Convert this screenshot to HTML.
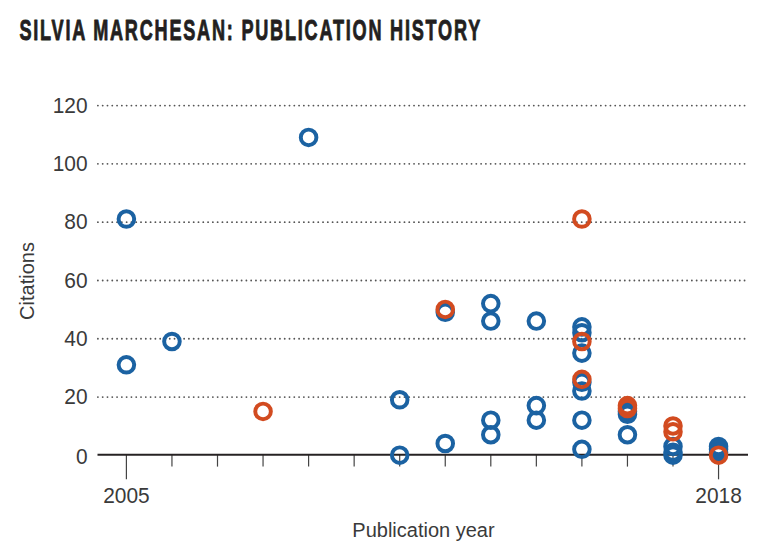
<!DOCTYPE html>
<html><head><meta charset="utf-8"><style>
html,body{margin:0;padding:0;background:#fff;}
body{width:767px;height:556px;overflow:hidden;}
svg{display:block;}
.lab{font-family:"Liberation Sans",sans-serif;font-size:20px;fill:#3a3a3a;}
.num{font-family:"Liberation Sans",sans-serif;font-size:22.5px;fill:#3a3a3a;}
.title{font-family:"Liberation Sans",sans-serif;font-size:30.2px;font-weight:bold;fill:#231f20;}
</style></head><body>
<svg width="767" height="556" viewBox="0 0 767 556">
<line x1="97.9" y1="397.05" x2="746" y2="397.05" stroke="#555" stroke-width="1.85" stroke-linecap="round" stroke-dasharray="0.01 4.78"/>
<line x1="97.9" y1="338.75" x2="746" y2="338.75" stroke="#555" stroke-width="1.85" stroke-linecap="round" stroke-dasharray="0.01 4.78"/>
<line x1="97.9" y1="280.45" x2="746" y2="280.45" stroke="#555" stroke-width="1.85" stroke-linecap="round" stroke-dasharray="0.01 4.78"/>
<line x1="97.9" y1="222.15" x2="746" y2="222.15" stroke="#555" stroke-width="1.85" stroke-linecap="round" stroke-dasharray="0.01 4.78"/>
<line x1="97.9" y1="163.85" x2="746" y2="163.85" stroke="#555" stroke-width="1.85" stroke-linecap="round" stroke-dasharray="0.01 4.78"/>
<line x1="97.9" y1="105.55" x2="746" y2="105.55" stroke="#555" stroke-width="1.85" stroke-linecap="round" stroke-dasharray="0.01 4.78"/>
<line x1="126.40" y1="454.8" x2="126.40" y2="479.3" stroke="#444" stroke-width="1.2"/>
<line x1="171.95" y1="454.8" x2="171.95" y2="466.6" stroke="#444" stroke-width="1.2"/>
<line x1="217.50" y1="454.8" x2="217.50" y2="466.6" stroke="#444" stroke-width="1.2"/>
<line x1="263.05" y1="454.8" x2="263.05" y2="466.6" stroke="#444" stroke-width="1.2"/>
<line x1="308.60" y1="454.8" x2="308.60" y2="466.6" stroke="#444" stroke-width="1.2"/>
<line x1="354.15" y1="454.8" x2="354.15" y2="466.6" stroke="#444" stroke-width="1.2"/>
<line x1="399.70" y1="454.8" x2="399.70" y2="466.6" stroke="#444" stroke-width="1.2"/>
<line x1="445.25" y1="454.8" x2="445.25" y2="466.6" stroke="#444" stroke-width="1.2"/>
<line x1="490.80" y1="454.8" x2="490.80" y2="466.6" stroke="#444" stroke-width="1.2"/>
<line x1="536.35" y1="454.8" x2="536.35" y2="466.6" stroke="#444" stroke-width="1.2"/>
<line x1="581.90" y1="454.8" x2="581.90" y2="466.6" stroke="#444" stroke-width="1.2"/>
<line x1="627.45" y1="454.8" x2="627.45" y2="466.6" stroke="#444" stroke-width="1.2"/>
<line x1="673.00" y1="454.8" x2="673.00" y2="466.6" stroke="#444" stroke-width="1.2"/>
<line x1="718.55" y1="454.8" x2="718.55" y2="479.3" stroke="#444" stroke-width="1.2"/>
<line x1="97.5" y1="454.8" x2="748" y2="454.8" stroke="#262223" stroke-width="2.1"/>
<circle cx="126.40" cy="219.03" r="7.8" fill="none" stroke="#1b62a2" stroke-width="3.95"/>
<circle cx="126.40" cy="364.79" r="7.8" fill="none" stroke="#1b62a2" stroke-width="3.95"/>
<circle cx="171.95" cy="341.47" r="7.8" fill="none" stroke="#1b62a2" stroke-width="3.95"/>
<circle cx="308.60" cy="137.41" r="7.8" fill="none" stroke="#1b62a2" stroke-width="3.95"/>
<circle cx="399.70" cy="399.77" r="7.8" fill="none" stroke="#1b62a2" stroke-width="3.95"/>
<circle cx="399.70" cy="455.15" r="7.8" fill="none" stroke="#1b62a2" stroke-width="3.95"/>
<circle cx="445.25" cy="443.49" r="7.8" fill="none" stroke="#1b62a2" stroke-width="3.95"/>
<circle cx="445.25" cy="312.32" r="7.8" fill="none" stroke="#1b62a2" stroke-width="3.95"/>
<circle cx="490.80" cy="303.57" r="7.8" fill="none" stroke="#1b62a2" stroke-width="3.95"/>
<circle cx="490.80" cy="321.06" r="7.8" fill="none" stroke="#1b62a2" stroke-width="3.95"/>
<circle cx="490.80" cy="420.17" r="7.8" fill="none" stroke="#1b62a2" stroke-width="3.95"/>
<circle cx="490.80" cy="434.75" r="7.8" fill="none" stroke="#1b62a2" stroke-width="3.95"/>
<circle cx="536.35" cy="321.06" r="7.8" fill="none" stroke="#1b62a2" stroke-width="3.95"/>
<circle cx="536.35" cy="405.60" r="7.8" fill="none" stroke="#1b62a2" stroke-width="3.95"/>
<circle cx="536.35" cy="420.17" r="7.8" fill="none" stroke="#1b62a2" stroke-width="3.95"/>
<circle cx="581.90" cy="326.89" r="7.8" fill="none" stroke="#1b62a2" stroke-width="3.95"/>
<circle cx="581.90" cy="332.72" r="7.8" fill="none" stroke="#1b62a2" stroke-width="3.95"/>
<circle cx="581.90" cy="353.12" r="7.8" fill="none" stroke="#1b62a2" stroke-width="3.95"/>
<circle cx="581.90" cy="382.28" r="7.8" fill="none" stroke="#1b62a2" stroke-width="3.95"/>
<circle cx="581.90" cy="391.02" r="7.8" fill="none" stroke="#1b62a2" stroke-width="3.95"/>
<circle cx="581.90" cy="420.17" r="7.8" fill="none" stroke="#1b62a2" stroke-width="3.95"/>
<circle cx="581.90" cy="449.32" r="7.8" fill="none" stroke="#1b62a2" stroke-width="3.95"/>
<circle cx="627.45" cy="411.43" r="7.8" fill="none" stroke="#1b62a2" stroke-width="3.95"/>
<circle cx="627.45" cy="414.34" r="7.8" fill="none" stroke="#1b62a2" stroke-width="3.95"/>
<circle cx="627.45" cy="434.75" r="7.8" fill="none" stroke="#1b62a2" stroke-width="3.95"/>
<circle cx="673.00" cy="446.41" r="7.8" fill="none" stroke="#1b62a2" stroke-width="3.95"/>
<circle cx="673.00" cy="452.24" r="7.8" fill="none" stroke="#1b62a2" stroke-width="3.95"/>
<circle cx="673.00" cy="455.15" r="7.8" fill="none" stroke="#1b62a2" stroke-width="3.95"/>
<circle cx="718.55" cy="446.41" r="7.8" fill="none" stroke="#1b62a2" stroke-width="3.95"/>
<circle cx="718.55" cy="449.32" r="7.8" fill="none" stroke="#1b62a2" stroke-width="3.95"/>
<circle cx="718.55" cy="452.24" r="7.8" fill="none" stroke="#1b62a2" stroke-width="3.95"/>
<circle cx="263.05" cy="411.43" r="7.8" fill="none" stroke="#d24b20" stroke-width="3.95"/>
<circle cx="445.25" cy="309.40" r="7.8" fill="none" stroke="#d24b20" stroke-width="3.95"/>
<circle cx="581.90" cy="219.03" r="7.8" fill="none" stroke="#d24b20" stroke-width="3.95"/>
<circle cx="581.90" cy="341.47" r="7.8" fill="none" stroke="#d24b20" stroke-width="3.95"/>
<circle cx="581.90" cy="379.36" r="7.8" fill="none" stroke="#d24b20" stroke-width="3.95"/>
<circle cx="627.45" cy="405.60" r="7.8" fill="none" stroke="#d24b20" stroke-width="3.95"/>
<circle cx="627.45" cy="408.51" r="7.8" fill="none" stroke="#d24b20" stroke-width="3.95"/>
<circle cx="673.00" cy="426.00" r="7.8" fill="none" stroke="#d24b20" stroke-width="3.95"/>
<circle cx="673.00" cy="431.83" r="7.8" fill="none" stroke="#d24b20" stroke-width="3.95"/>
<circle cx="718.55" cy="455.15" r="7.8" fill="none" stroke="#d24b20" stroke-width="3.95"/>
<text transform="translate(87.6,463.80) scale(0.93,1)" text-anchor="end" class="num">0</text>
<text transform="translate(87.6,404.10) scale(0.93,1)" text-anchor="end" class="num">20</text>
<text transform="translate(87.6,345.80) scale(0.93,1)" text-anchor="end" class="num">40</text>
<text transform="translate(87.6,287.50) scale(0.93,1)" text-anchor="end" class="num">60</text>
<text transform="translate(87.6,229.20) scale(0.93,1)" text-anchor="end" class="num">80</text>
<text transform="translate(87.6,170.90) scale(0.93,1)" text-anchor="end" class="num">100</text>
<text transform="translate(87.6,112.60) scale(0.93,1)" text-anchor="end" class="num">120</text>
<text transform="translate(126.40,503.3) scale(0.93,1)" text-anchor="middle" class="num">2005</text>
<text transform="translate(718.55,503.3) scale(0.93,1)" text-anchor="middle" class="num">2018</text>
<text x="423.5" y="537.4" text-anchor="middle" class="lab">Publication year</text>
<text transform="translate(33.8,281) rotate(-90)" text-anchor="middle" class="lab">Citations</text>
<text transform="translate(19.4,39.9) scale(0.6,1)" class="title" style="letter-spacing:2.95px" stroke="#231f20" stroke-width="0.9" stroke-linejoin="round">SILVIA MARCHESAN: PUBLICATION HISTORY</text>
</svg>
</body></html>
